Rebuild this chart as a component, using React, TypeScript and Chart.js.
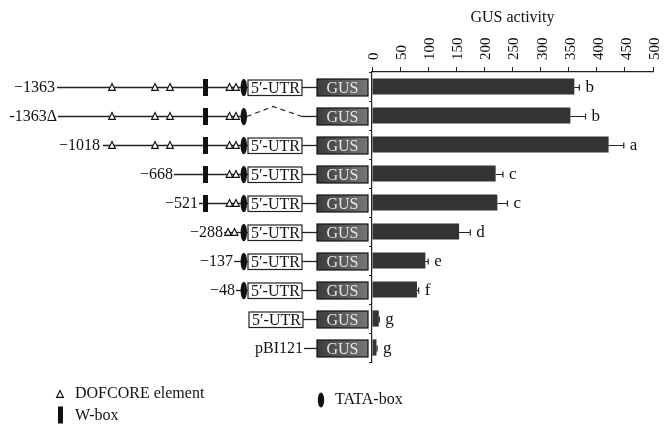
import React, { useEffect, useRef } from "react";
import { Chart, registerables } from "chart.js";

Chart.register(...registerables);

// ---- data ----
const constructs = ["−1363", "-1363Δ", "−1018", "−668", "−521", "−288", "−137", "−48", "5′-UTR", "pBI121"];
const promoterLabels = ["−1363", "-1363Δ", "−1018", "−668", "−521", "−288", "−137", "−48", "", "pBI121"];
const gusActivity = [360, 353, 421, 220, 223, 155, 95, 80, 12, 8];
const gusError = [9, 27, 27, 13, 18, 20, 5, 3, 1, 1];
const sigLetters = ["b", "b", "a", "c", "c", "d", "e", "f", "g", "g"];
const hasUpstreamDof = [true, true, true, false, false, false, false, false, false, false];
const hasWbox = [true, true, true, true, true, false, false, false, false, false];
const hasProximalDof = [true, true, true, true, true, true, false, false, false, false];
const hasTata = [true, true, true, true, true, true, true, true, false, false];
const utrState = ["box", "deleted", "box", "box", "box", "box", "box", "box", "box", "none"];
const legendLabels = ["DOFCORE element", "W-box", "TATA-box"];
const axisTitle = "GUS activity";

// ---- drawing layout (pixels, not data) ----
const SERIF = "'Liberation Serif', 'DejaVu Serif', serif";
const rowLayout = [
  { labelRight: 55, lineStart: 57 },
  { labelRight: 57, lineStart: 58 },
  { labelRight: 100, lineStart: 103 },
  { labelRight: 173, lineStart: 174 },
  { labelRight: 198, lineStart: 199 },
  { labelRight: 223, lineStart: 224 },
  { labelRight: 233, lineStart: 234 },
  { labelRight: 235, lineStart: 236 },
  { labelRight: 0, lineStart: 249 },
  { labelRight: 303, lineStart: 304 },
];
const UP_DOF_X = [112, 155, 170];
const PROX_DOF_X = [229.5, 236];
const WBOX_X = 203;
const TATA_X = 243.8;
const UTR_L = 248, UTR_R = 302;
const GUS_L = 317, GUS_R = 368;

function triangle(ctx: CanvasRenderingContext2D, x: number, y: number) {
  ctx.beginPath();
  ctx.moveTo(x, y - 4);
  ctx.lineTo(x + 3.3, y + 2.8);
  ctx.lineTo(x - 3.3, y + 2.8);
  ctx.closePath();
  ctx.fillStyle = "#fff";
  ctx.fill();
  ctx.lineWidth = 1.2;
  ctx.strokeStyle = "#111";
  ctx.stroke();
}
function wbox(ctx: CanvasRenderingContext2D, x: number, y: number) {
  ctx.fillStyle = "#111";
  ctx.fillRect(x, y - 8.5, 5, 17);
}
function tata(ctx: CanvasRenderingContext2D, x: number, y: number, ry = 8.7) {
  ctx.beginPath();
  ctx.ellipse(x, y, 3.2, ry, 0, 0, Math.PI * 2);
  ctx.fillStyle = "#111";
  ctx.fill();
}
function hline(ctx: CanvasRenderingContext2D, x1: number, x2: number, y: number) {
  ctx.beginPath();
  ctx.moveTo(x1, y);
  ctx.lineTo(x2, y);
  ctx.lineWidth = 1.3;
  ctx.strokeStyle = "#222";
  ctx.stroke();
}

const diagramPlugin = {
  id: "diagram",
  afterDraw(chart: any) {
    const ctx: CanvasRenderingContext2D = chart.ctx;
    const yScale = chart.scales.y;
    ctx.save();
    constructs.forEach((_, i) => {
      const y = Math.round(yScale.getPixelForValue(i)) + 0.5;
      const lay = rowLayout[i];
      const state = utrState[i];
      // main line
      if (state === "none") {
        hline(ctx, lay.lineStart, GUS_L, y);
      } else if (state === "deleted") {
        hline(ctx, lay.lineStart, TATA_X, y);
        ctx.beginPath();
        ctx.setLineDash([5, 4]);
        ctx.moveTo(TATA_X + 3, y);
        ctx.lineTo(273, y - 10);
        ctx.lineTo(302, y);
        ctx.lineWidth = 1.2;
        ctx.strokeStyle = "#222";
        ctx.stroke();
        ctx.setLineDash([]);
        hline(ctx, 302, GUS_L, y);
      } else {
        const l = i === 8 ? 249 : UTR_L;
        if (hasTata[i]) hline(ctx, lay.lineStart, l, y);
        hline(ctx, UTR_R, GUS_L, y);
      }
      if (hasUpstreamDof[i]) UP_DOF_X.forEach((x) => triangle(ctx, x, y));
      if (hasWbox[i]) wbox(ctx, WBOX_X, y);
      if (hasProximalDof[i]) PROX_DOF_X.forEach((x) => triangle(ctx, i === 5 ? x - 1.5 : x, y));
      if (hasTata[i]) tata(ctx, TATA_X, y);
      // UTR box
      if (state === "box") {
        const l = i === 8 ? 249 : UTR_L;
        const r = i === 8 ? 303 : UTR_R;
        ctx.fillStyle = "#fff";
        ctx.fillRect(l, y - 7.5, r - l, 15.5);
        ctx.lineWidth = 1.2;
        ctx.strokeStyle = "#222";
        ctx.strokeRect(l, y - 7.5, r - l, 15.5);
        ctx.fillStyle = "#111";
        ctx.font = `16px ${SERIF}`;
        ctx.textAlign = "center";
        ctx.textBaseline = "middle";
        ctx.fillText("5′-UTR", (l + r) / 2 + 0.5, y + 1.5);
      }
      // GUS box
      const g = ctx.createLinearGradient(GUS_L, 0, GUS_R, 0);
      g.addColorStop(0, "#3c3c3c");
      g.addColorStop(1, "#767676");
      ctx.fillStyle = g;
      ctx.fillRect(GUS_L, y - 8.5, GUS_R - GUS_L, 17);
      ctx.lineWidth = 1.2;
      ctx.strokeStyle = "#111";
      ctx.strokeRect(GUS_L, y - 8.5, GUS_R - GUS_L, 17);
      ctx.fillStyle = "#e6e6e6";
      ctx.font = `16px ${SERIF}`;
      ctx.textAlign = "center";
      ctx.textBaseline = "middle";
      ctx.fillText("GUS", (GUS_L + GUS_R) / 2, y + 1);
      // promoter label
      const lbl = promoterLabels[i];
      if (lbl) {
        ctx.fillStyle = "#111";
        ctx.textAlign = "right";
        ctx.fillText(lbl, lay.labelRight, y + 0.5);
      }
    });

    // legend
    ctx.font = `16px ${SERIF}`;
    ctx.textAlign = "left";
    ctx.textBaseline = "middle";
    triangle(ctx, 60, 394.5);
    ctx.fillStyle = "#111";
    ctx.fillText(legendLabels[0], 75, 394);
    wbox(ctx, 58, 415);
    ctx.fillStyle = "#111";
    ctx.fillText(legendLabels[1], 75, 416);
    tata(ctx, 321, 400, 7.5);
    ctx.fillStyle = "#111";
    ctx.fillText(legendLabels[2], 335, 400);
    ctx.restore();
  },
};

const errorPlugin = {
  id: "errors",
  afterDatasetsDraw(chart: any) {
    const ctx: CanvasRenderingContext2D = chart.ctx;
    const xScale = chart.scales.x;
    const meta = chart.getDatasetMeta(0);
    ctx.save();
    meta.data.forEach((bar: any, i: number) => {
      const y = Math.round(bar.y) + 0.5;
      const x0 = xScale.getPixelForValue(gusActivity[i]);
      const x1 = xScale.getPixelForValue(gusActivity[i] + gusError[i]);
      ctx.strokeStyle = "#222";
      ctx.lineWidth = 1.2;
      ctx.beginPath();
      ctx.moveTo(x0, y);
      ctx.lineTo(x1, y);
      ctx.moveTo(x1, y - 3);
      ctx.lineTo(x1, y + 3);
      ctx.stroke();
      ctx.fillStyle = "#111";
      ctx.font = `17px ${SERIF}`;
      ctx.textAlign = "left";
      ctx.textBaseline = "middle";
      ctx.fillText(sigLetters[i], x1 + 6, y);
    });
    ctx.restore();
  },
};

export default function App() {
  const ref = useRef<HTMLCanvasElement>(null);
  useEffect(() => {
    if (!ref.current) return;
    const chart = new Chart(ref.current, {
      type: "bar",
      data: {
        labels: constructs,
        datasets: [
          {
            data: gusActivity,
            backgroundColor: "#333333",
            borderWidth: 0,
            categoryPercentage: 1,
            barPercentage: 0.56,
          },
        ],
      },
      options: {
        indexAxis: "y",
        animation: false,
        responsive: true,
        maintainAspectRatio: false,
        layout: { padding: { left: 0, right: 14, top: 0, bottom: 72 } },
        plugins: { legend: { display: false }, tooltip: { enabled: false } },
        scales: {
          x: {
            position: "top",
            min: 0,
            max: 500,
            afterFit: (s: any) => {
              s.height = 72;
            },
            ticks: {
              stepSize: 50,
              minRotation: 90,
              maxRotation: 90,
              autoSkip: false,
              padding: 7,
              labelOffset: 20,
              color: "#111",
              font: { family: SERIF, size: 15 },
            },
            grid: { drawOnChartArea: false, drawTicks: true, tickLength: 5, color: "#222", lineWidth: 1 },
            border: { display: true, color: "#222", width: 1.2 },
            title: {
              display: true,
              text: axisTitle,
              color: "#111",
              font: { family: SERIF, size: 16 },
              padding: { top: 8, bottom: 0 },
            },
          },
          y: {
            afterFit: (s: any) => {
              s.width = 372;
            },
            ticks: { display: false },
            grid: { drawOnChartArea: false, drawTicks: true, tickLength: 3, color: "#222", offset: true },
            border: { display: true, color: "#222", width: 1.2 },
          },
        },
      },
      plugins: [errorPlugin, diagramPlugin],
    } as any);
    return () => chart.destroy();
  }, []);
  return (
    <div style={{ position: "absolute", left: 0, top: 0, width: 667, height: 434, background: "#fff" }}>
      <canvas ref={ref} />
    </div>
  );
}
